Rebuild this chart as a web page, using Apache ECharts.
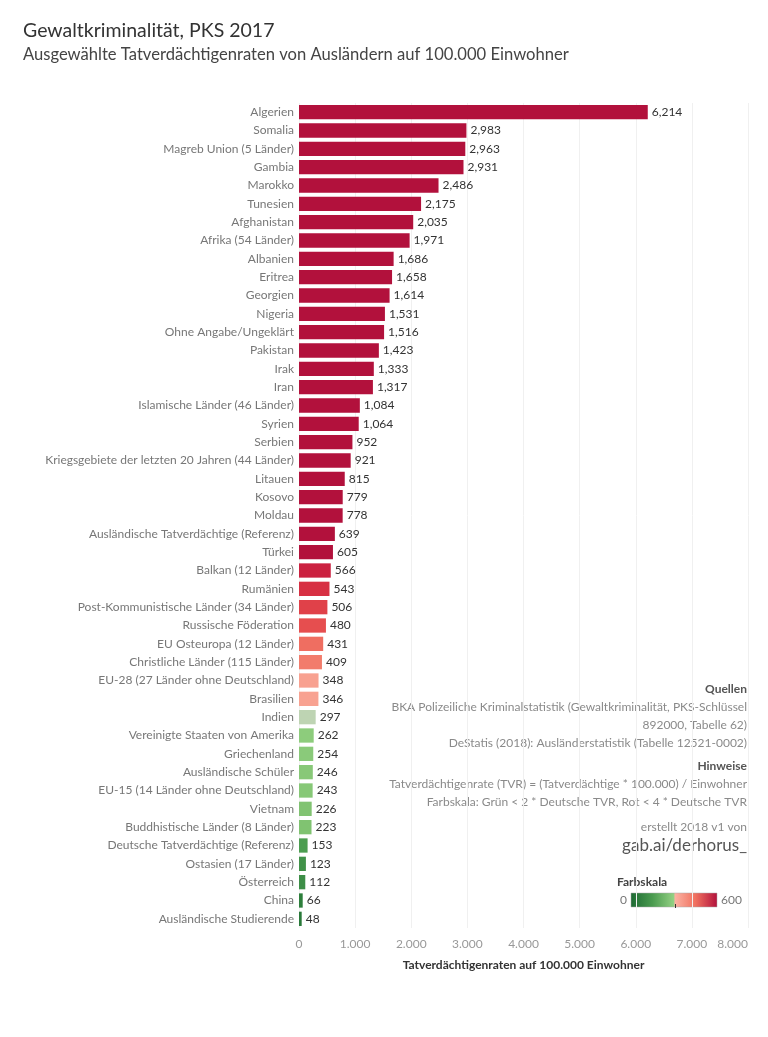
<!DOCTYPE html>
<html><head><meta charset="utf-8">
<script src="https://cdn.jsdelivr.net/npm/echarts@6/dist/echarts.min.js"></script>
<style>html,body{margin:0;padding:0;background:#fff}#c{width:768px;height:1037px}</style>
</head><body><div id="c"></div>
<script>
const categories = [
"Algerien","Somalia","Magreb Union (5 Länder)","Gambia","Marokko","Tunesien","Afghanistan","Afrika (54 Länder)",
"Albanien","Eritrea","Georgien","Nigeria","Ohne Angabe/Ungeklärt","Pakistan","Irak","Iran",
"Islamische Länder (46 Länder)","Syrien","Serbien","Kriegsgebiete der letzten 20 Jahren (44 Länder)","Litauen","Kosovo","Moldau",
"Ausländische Tatverdächtige (Referenz)","Türkei","Balkan (12 Länder)","Rumänien","Post-Kommunistische Länder (34 Länder)",
"Russische Föderation","EU Osteuropa (12 Länder)","Christliche Länder (115 Länder)","EU-28 (27 Länder ohne Deutschland)",
"Brasilien","Indien","Vereinigte Staaten von Amerika","Griechenland","Ausländische Schüler","EU-15 (14 Länder ohne Deutschland)",
"Vietnam","Buddhistische Länder (8 Länder)","Deutsche Tatverdächtige (Referenz)","Ostasien (17 Länder)","Österreich","China","Ausländische Studierende"];
const values = [6214,2983,2963,2931,2486,2175,2035,1971,1686,1658,1614,1531,1516,1423,1333,1317,1084,1064,952,921,815,779,778,
639,605,566,543,506,480,431,409,348,346,297,262,254,246,243,226,223,153,123,112,66,48];
const xTicks = [0,1000,2000,3000,4000,5000,6000,7000,8000];

// colour scale (Farbskala 0..600, diverging around 2 * German TVR)
const colorStops = [
 [0,'#1d6a33'],[60,'#2c7d3b'],[150,'#4a9b4f'],[220,'#7fc270'],[265,'#8ecd7d'],[306,'#cbd6c2'],
 [307,'#f9aa9a'],[350,'#f8a190'],[420,'#f17565'],[490,'#e4484b'],[545,'#d72f43'],[570,'#c91e40'],[600,'#b2113c']];
function hex2rgb(h){return [1,3,5].map(i=>parseInt(h.substr(i,2),16));}
function colorFor(v){
  if(v<=colorStops[0][0]) return colorStops[0][1];
  for(let i=1;i<colorStops.length;i++){
    if(v<=colorStops[i][0]){
      const [a,ca]=colorStops[i-1],[b,cb]=colorStops[i];
      const t=(v-a)/(b-a),A=hex2rgb(ca),B=hex2rgb(cb);
      return 'rgb('+A.map((x,k)=>Math.round(x+(B[k]-x)*t)).join(',')+')';
    }
  }
  return colorStops[colorStops.length-1][1];
}
const catRev = categories.slice().reverse();
const valRev = values.slice().reverse();
const F = 'Lato, "Noto Sans", sans-serif';
const chart = echarts.init(document.getElementById('c'));
const noteStyle = {fontFamily:F,fontSize:12,fill:'#8a8a8a',textAlign:'right'};
const notes = [
 ['Quellen',691,true],
 ['BKA Polizeiliche Kriminalstatistik (Gewaltkriminalität, PKS-Schlüssel',709],
 ['892000, Tabelle 62)',727],
 ['DeStatis (2018): Ausländerstatistik (Tabelle 12521-0002)',745],
 ['Hinweise',768,true],
 ['Tatverdächtigenrate (TVR) = (Tatverdächtige * 100.000) / Einwohner',786],
 ['Farbskala: Grün < 2 * Deutsche TVR, Rot < 4 * Deutsche TVR',804],
 ['erstellt 2018 v1 von',829]
];
const graphics = notes.map(n=>({type:'text',right:21,top:n[1]-8,style:Object.assign({},noteStyle,{text:n[0],fill:n[2]?'#555':'#8a8a8a',fontWeight:n[2]?'bold':'normal'})}));
graphics.push({type:'text',right:21,top:837,style:{text:'gab.ai/derhorus_',fontFamily:F,fontSize:17,fill:'#555'}});
graphics.push({type:'text',left:617,top:876,style:{text:'Farbskala',fontFamily:F,fontSize:12,fontWeight:'bold',fill:'#444'}});
graphics.push({type:'text',left:620,top:894,style:{text:'0',fontFamily:F,fontSize:12,fill:'#777'}});
graphics.push({type:'text',left:721,top:894,style:{text:'600',fontFamily:F,fontSize:12,fill:'#777'}});
graphics.push({type:'rect',shape:{x:631,y:893,width:86,height:14},style:{stroke:'#aaa',lineWidth:0.5,fill:new echarts.graphic.LinearGradient(0,0,1,0,[
 {offset:0,color:'#1d6a33'},{offset:0.25,color:'#4a9b4f'},{offset:0.5,color:'#94d184'},{offset:0.51,color:'#fbb3a3'},{offset:0.75,color:'#f0705f'},{offset:1,color:'#b2113c'}])}});
graphics.push({type:'rect',shape:{x:675,y:904,width:1,height:4},style:{fill:'#333'}});
chart.setOption({
  animation:false,
  title:[{text:'Gewaltkriminalität, PKS 2017',left:18,top:16,textStyle:{fontFamily:F,fontSize:19.5,fontWeight:'normal',color:'#333'}},
         {text:'Ausgewählte Tatverdächtigenraten von Ausländern auf 100.000 Einwohner',left:18,top:41,textStyle:{fontFamily:F,fontSize:16.6,fontWeight:'normal',color:'#444'}}],
  grid:{left:299,right:20,top:103,height:825},
  xAxis:{type:'value',min:0,max:8000,interval:1000,
    name:'Tatverdächtigenraten auf 100.000 Einwohner',nameLocation:'middle',nameGap:31,
    nameTextStyle:{fontFamily:F,fontSize:12,fontWeight:'bold',color:'#333'},
    axisLine:{show:false},axisTick:{show:false},
    splitLine:{lineStyle:{color:'#f0f0f0'}},
    axisLabel:{fontFamily:F,fontSize:12,color:'#999',margin:10,alignMaxLabel:'right',
      formatter:v=>xTicks.indexOf(v)>=0?v.toLocaleString('de-DE'):''}},
  yAxis:{type:'category',data:catRev,axisLine:{show:false},axisTick:{show:false},
    axisLabel:{fontFamily:F,fontSize:12,color:'#777',margin:5}},
  series:[{type:'bar',barCategoryGap:'22%',
    data:valRev.map(v=>({value:v,itemStyle:{color:colorFor(v)}})),
    label:{show:true,position:'right',distance:4,fontFamily:F,fontSize:12,color:'#333',
      formatter:p=>p.value.toLocaleString('en-US')}}],
  graphic:graphics
});
</script></body></html>
